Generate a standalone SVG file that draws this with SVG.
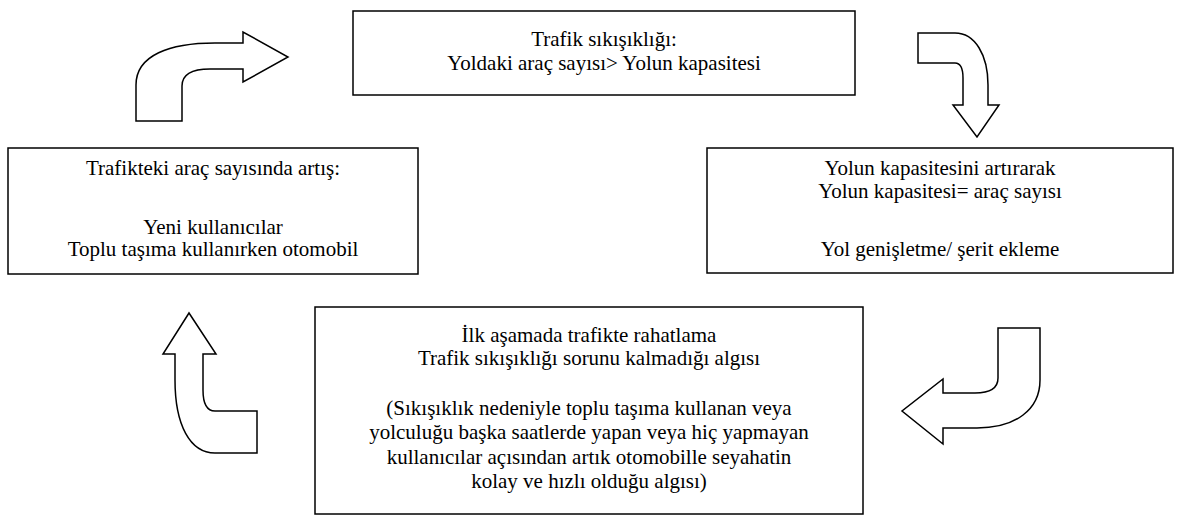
<svg xmlns="http://www.w3.org/2000/svg" width="1181" height="527" viewBox="0 0 1181 527">
<style>
.box{fill:#fff;stroke:#000;stroke-width:1.5}
.arr{fill:#fff;stroke:#000;stroke-width:1.5;stroke-linejoin:miter}
.t{font-size:21px;fill:#000;text-anchor:middle}
</style>
<rect width="1181" height="527" fill="#fff"/>
<g id="n-top" class="t" font-family="Liberation Serif, serif">
<rect class="box" x="353" y="11" width="502" height="84"/>
<text x="604" y="46" font-family="Liberation Serif, serif">Trafik sıkışıklığı:</text>
<text x="604" y="70" font-family="Liberation Serif, serif">Yoldaki araç sayısı&gt; Yolun kapasitesi</text>
</g>
<g id="n-right" class="t" font-family="Liberation Serif, serif">
<rect class="box" x="707" y="148" width="466" height="125"/>
<text x="940" y="175" font-family="Liberation Serif, serif">Yolun kapasitesini artırarak</text>
<text x="940" y="198" font-family="Liberation Serif, serif">Yolun kapasitesi= araç sayısı</text>
<text x="940" y="256" font-family="Liberation Serif, serif">Yol genişletme/ şerit ekleme</text>
</g>
<g id="n-bottom" class="t" font-family="Liberation Serif, serif">
<rect class="box" x="315" y="307" width="548" height="207"/>
<text x="589" y="342" font-family="Liberation Serif, serif">İlk aşamada trafikte rahatlama</text>
<text x="589" y="365" font-family="Liberation Serif, serif">Trafik sıkışıklığı sorunu kalmadığı algısı</text>
<text x="589" y="415" font-family="Liberation Serif, serif">(Sıkışıklık nedeniyle toplu taşıma kullanan veya</text>
<text x="589" y="439" font-family="Liberation Serif, serif">yolculuğu başka saatlerde yapan veya hiç yapmayan</text>
<text x="589" y="464" font-family="Liberation Serif, serif">kullanıcılar açısından artık otomobille seyahatin</text>
<text x="589" y="488" font-family="Liberation Serif, serif">kolay ve hızlı olduğu algısı)</text>
</g>
<g id="n-left" class="t" font-family="Liberation Serif, serif">
<rect class="box" x="8" y="148" width="410" height="126"/>
<text x="213" y="175" font-family="Liberation Serif, serif">Trafikteki araç sayısında artış:</text>
<text x="213" y="234" font-family="Liberation Serif, serif">Yeni kullanıcılar</text>
<text x="213" y="256" font-family="Liberation Serif, serif">Toplu taşıma kullanırken otomobil</text>
</g>
<g id="connectors">
<path class="arr" d="M136,121 L136,85 C136,55 170,43 215,43 L243,43 L243,32 L288,57 L243,82 L243,69 L210,69 C192,69 182,74 182,86 L182,121 Z"/>
<path class="arr" d="M918,33 L955,33 C975,33 988,55 988,85 L988,105 L999,105 L977,137 L953,105 L963,105 L963,78 C963,68 960,63 955,63 L918,63 Z"/>
<path class="arr" d="M998,328 L1040,328 L1040,380 C1040,410 1015,428 977,428 L943,428 L943,444 L902,411 L943,379 L943,393 L975,393 C990,393 998,388 998,378 Z"/>
<path class="arr" d="M257,453 L257,411 L215,411 C208,411 203,405 203,390 L203,354 L216,354 L189,313 L163,354 L175,354 L175,380 C175,425 190,453 215,453 Z"/>
</g>
</svg>
